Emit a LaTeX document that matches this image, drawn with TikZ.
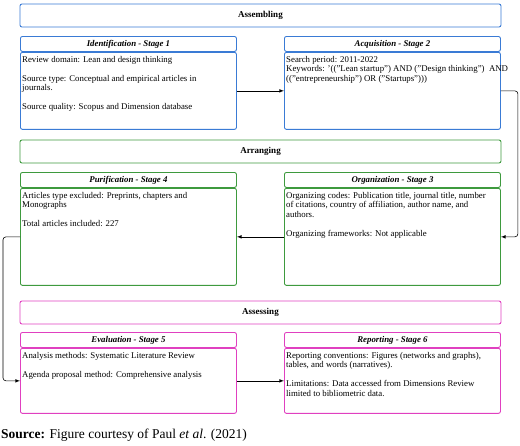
\documentclass[tikz,border=0pt]{standalone}
\usepackage{fontspec}
\usepackage{tikz}
\usetikzlibrary{positioning,arrows}
\setmainfont{Liberation Serif}
\definecolor{asmblue}{RGB}{58,123,213}
\definecolor{arrgreen}{RGB}{62,154,62}
\definecolor{assmag}{RGB}{224,64,192}

\begin{document}
\begin{tikzpicture}[x=1pt,y=-1pt,font=\fontsize{8.8}{9.5}\selectfont,
   bar/.style={draw=#1,rounded corners=2pt,line width=0.9pt,minimum width=481pt,minimum height=23pt,font=\fontsize{9}{10}\selectfont\bfseries},
   head/.style={draw=#1,rounded corners=2pt,line width=0.9pt,minimum width=216pt,minimum height=15pt,font=\fontsize{8.8}{9.5}\selectfont\bfseries\itshape},
   body/.style 2 args={draw=#1,rounded corners=2pt,line width=0.9pt,minimum width=216pt,minimum height=#2},
   txt/.style={anchor=north west,align=left,inner sep=0pt},
   link/.style={-latex,line width=0.6pt,rounded corners=3pt}]
   \useasboundingbox (0,0) rectangle (520,445);
   % Assembling
   \node[bar=asmblue] (asm) at (260.5,15.5) {Assembling};
   \node[head=asmblue,anchor=north west] (idh) at (20,36) {Identification - Stage 1};
   \node[body={asmblue}{77pt}] (idb) [below=0pt of idh] {};
   \node[txt] (idt) at ([shift={(2,4)}]idb.north west) {Review domain: Lean and design thinking\\[9.5pt]
      Source type: Conceptual and empirical articles in\\ journals.\\[9.5pt]
      Source quality: Scopus and Dimension database};
   \node[head=asmblue,anchor=north west] (acqh) at (284,36) {Acquisition - Stage 2};
   \node[body={asmblue}{77pt}] (acqb) [below=0pt of acqh] {};
   \node[txt] (acqt) at ([shift={(2,4)}]acqb.north west) {Search period: 2011-2022\\
      Keywords: '(("Lean startup") AND ("Design thinking")\ \ AND\\
      (("entrepreneurship") OR ("Startups")))};
   % Arranging
   \node[bar=arrgreen] (arr) at (260.5,151.5) {Arranging};
   \node[head=arrgreen,anchor=north west] (purh) at (20,172) {Purification - Stage 4};
   \node[body={arrgreen}{97pt}] (purb) [below=0pt of purh] {};
   \node[txt] (purt) at ([shift={(2,4)}]purb.north west) {Articles type excluded: Preprints, chapters and\\ Monographs\\[9.5pt]
      Total articles included: 227};
   \node[head=arrgreen,anchor=north west] (orgh) at (284,172) {Organization - Stage 3};
   \node[body={arrgreen}{97pt}] (orgb) [below=0pt of orgh] {};
   \node[txt] (orgt) at ([shift={(2,4)}]orgb.north west) {Organizing codes: Publication title, journal title, number\\
      of citations, country of affiliation, author name, and\\ authors.\\[9.5pt]
      Organizing frameworks: Not applicable};
   % Assessing
   \node[bar=assmag] (ass) at (260.5,312.5) {Assessing};
   \node[head=assmag,anchor=north west] (evah) at (20,332) {Evaluation - Stage 5};
   \node[body={assmag}{65pt}] (evab) [below=0pt of evah] {};
   \node[txt] (evat) at ([shift={(2,4)}]evab.north west) {Analysis methods: Systematic Literature Review\\[9.5pt]
      Agenda proposal method: Comprehensive analysis};
   \node[head=assmag,anchor=north west] (reph) at (284,332) {Reporting - Stage 6};
   \node[body={assmag}{65pt}] (repb) [below=0pt of reph] {};
   \node[txt] (rept) at ([shift={(2,4)}]repb.north west) {Reporting conventions: Figures (networks and graphs),\\
      tables, and words (narratives).\\[9.5pt]
      Limitations: Data accessed from Dimensions Review\\ limited to bibliometric data.};
   % flow
   \draw[link] (idb) -- (acqb);
   \draw[link] (acqb.east) -- ++(17,0) |- (orgb.east);
   \draw[link] (orgb) -- (purb);
   \draw[link] (purb.west) -- ++(-17,0) |- (evab.west);
   \draw[link] (evab) -- (repb);
   \node[anchor=west,inner sep=0pt,font=\fontsize{13.5}{15}\selectfont] (src) at (1,435) {\textbf{Source:} Figure courtesy of Paul \textit{et al}. (2021)};
\end{tikzpicture}
\end{document}
